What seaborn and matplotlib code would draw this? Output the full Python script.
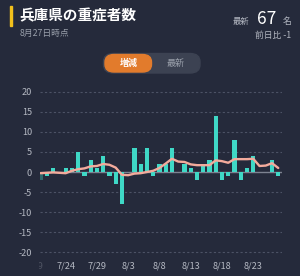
import numpy as np
import pandas as pd
import matplotlib
matplotlib.use("Agg")
import matplotlib.pyplot as plt
from matplotlib.patches import Rectangle, FancyBboxPatch
import seaborn as sns

# ---- data ----
dates = ["7/20", "7/21", "7/22", "7/23", "7/24", "7/25", "7/26", "7/27", "7/28", "7/29",
         "7/30", "7/31", "8/1", "8/2", "8/3", "8/4", "8/5", "8/6", "8/7", "8/8",
         "8/9", "8/10", "8/11", "8/12", "8/13", "8/14", "8/15", "8/16", "8/17", "8/18",
         "8/19", "8/20", "8/21", "8/22", "8/23", "8/24", "8/25", "8/26", "8/27"]
change = [-2, -1, 1, 0, 1, 1, 5, -1, 3, 1,
          4, -1, -3, -8, 0, 6, 2, 6, -1, 2,
          2, 6, 0, 2, 1, -2, 2, 3, 14, -2,
          -1, 8, -2, 1, 4, 0, 0, 3, -1]
avg = [-0.3, -0.2, -0.1, -0.2, -0.3, 0.3, 0.7, 0.9, 1.4, 1.5,
       2.0, 1.8, 1.1, -0.7, -0.8, -0.4, -0.3, 0.0, 0.3, 1.0,
       2.1, 3.3, 2.6, 2.5, 1.9, 1.7, 1.7, 1.7, 2.9, 2.7,
       2.3, 3.2, 3.2, 3.2, 3.3, 1.5, 1.6, 2.2, 1.0]
tick_labels = ["7/24", "7/29", "8/3", "8/8", "8/13", "8/18", "8/23"]
hidden_label = "7/19"
y_ticks = [20, 15, 10, 5, 0, -5, -10, -15, -20]
title = "兵庫県の重症者数"
subtitle = "8月27日時点"
latest_value = "67"
diff_text = "前日比 -1"

BG = "#252a3b"
BAR = "#3fd8c6"
LINE = "#f3ab9c"
GRID = "#4c5265"
TXT = "#b4b8c2"

sns.set_theme(style="dark")
plt.rcParams["font.family"] = ["Noto Sans CJK JP", "DejaVu Sans"]

W, H = 300, 276
fig = plt.figure(figsize=(W / 100, H / 100), dpi=100, facecolor=BG)

def fx(px):
    return px / W

def fy(py):
    return 1 - py / H

# axes placement
left_px, right_px, top_px, bot_px = 40, 282, 89.7, 254.3
ax = fig.add_axes([fx(left_px), fy(bot_px), fx(right_px - left_px), (bot_px - top_px) / H])
ax.set_facecolor(BG)

df = pd.DataFrame({"date": dates, "change": change, "avg": avg})
df["pos"] = np.arange(len(df))

for y in y_ticks:
    if y != 0:
        ax.axhline(y, color=GRID, lw=0.8, ls=(0, (2, 2)), zorder=0)
ax.axhline(0, color="#7d8291", lw=1.0, zorder=1)

sns.barplot(data=df, x="date", y="change", color=BAR, width=0.68, saturation=1,
            ax=ax, zorder=2)
for p in ax.patches:
    p.set_edgecolor("none")
ax.patches[0].set_alpha(0.35)

sns.lineplot(x=df["pos"], y=df["avg"], color=LINE, lw=1.7, ax=ax, zorder=3,
             solid_joinstyle="round", solid_capstyle="round")

ax.set_xlabel("")
ax.set_ylabel("")
ax.set_yticks(y_ticks)
ax.set_yticklabels([str(v) for v in y_ticks])
tick_pos = [dates.index(d) for d in tick_labels]
ax.set_xticks(tick_pos)
ax.set_xticklabels(tick_labels)
ax.set_xlim(-0.1, len(df) - 0.4)
ax.set_ylim(-20.5, 20.5)
ax.tick_params(axis="both", length=0, colors=TXT, labelsize=6.6)
ax.tick_params(axis="y", pad=5.8)
ax.tick_params(axis="x", pad=5.5)
for s in ax.spines.values():
    s.set_visible(False)
ax.grid(False)

# scrolled-off first date label (one step of 5 days before 7/24)
ax.annotate(hidden_label, xy=(tick_pos[0] - 5, 0), xycoords=("data", "axes fraction"),
            xytext=(0, -5.5), textcoords="offset points", ha="center", va="top",
            fontsize=6.6, color=TXT, alpha=0.3, annotation_clip=False)
fig.patches.append(Rectangle((0, fy(274)), fx(38.3), 17 / H, transform=fig.transFigure,
                             color=BG, zorder=5))

# ---- header ----
fig.patches.append(Rectangle((fx(9.5), fy(25.5)), fx(2.6), (25.5 - 6) / H,
                             transform=fig.transFigure, color="#f2c01c", zorder=5))
fig.text(fx(19), fy(15.5), title, color="white", fontsize=10.5, fontweight="bold",
         va="center", ha="left")
fig.text(fx(20), fy(33), subtitle, color="#9aa0ab", fontsize=6.3, va="center", ha="left")
fig.text(fx(249.5), fy(21), "最新", color="#b4b8c2", fontsize=6.0, va="center", ha="right")
fig.text(fx(266.5), fy(18.5), latest_value, color="white", fontsize=12.5, va="center", ha="center")
fig.text(fx(291), fy(21), "名", color="#b4b8c2", fontsize=6.3, va="center", ha="right")
fig.text(fx(291), fy(35.5), diff_text, color="#b4b8c2", fontsize=6.3, va="center", ha="right")

# toggle
fig.patches.append(FancyBboxPatch((fx(103.5), fy(73)), fx(96.5), 19.5 / H,
                                  boxstyle="round,pad=0,rounding_size=0.033",
                                  transform=fig.transFigure, color="#3c4252",
                                  mutation_aspect=H / W, zorder=4))
fig.patches.append(FancyBboxPatch((fx(105), fy(72)), fx(46.5), 17.5 / H,
                                  boxstyle="round,pad=0,rounding_size=0.03",
                                  transform=fig.transFigure, color="#e27b2c",
                                  mutation_aspect=H / W, zorder=5))
fig.text(fx(128.5), fy(63), "増減", color="white", fontsize=6.5, fontweight="bold",
         va="center", ha="center", zorder=6)
fig.text(fx(175.5), fy(63), "最新", color="#9aa0ab", fontsize=6.5,
         va="center", ha="center", zorder=6)

fig.savefig("out.png", dpi=100, facecolor=BG)
